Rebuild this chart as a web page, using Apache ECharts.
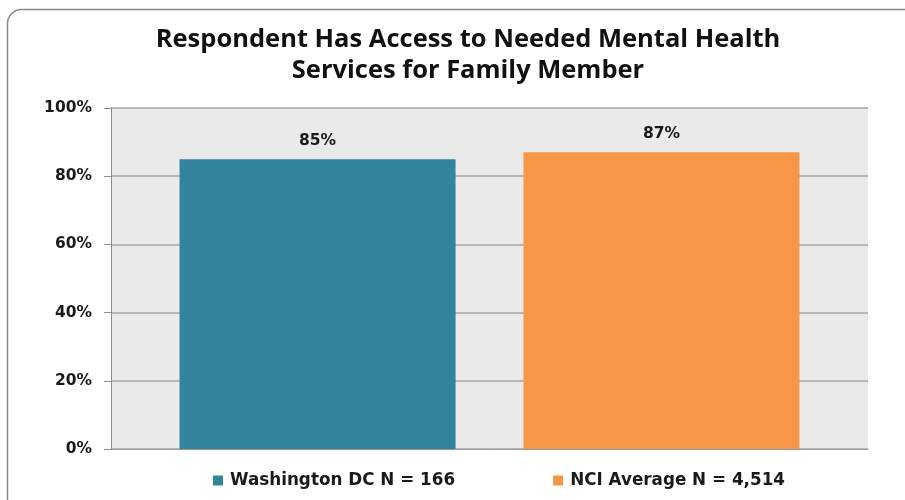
<!DOCTYPE html>
<html>
<head>
<meta charset="utf-8">
<script src="https://cdn.jsdelivr.net/npm/echarts@6/dist/echarts.min.js"></script>
<style>
  html, body { margin: 0; padding: 0; background: #ffffff; }
  #chart { width: 905px; height: 500px; }
</style>
</head>
<body>
<div id="chart"></div>
<script>
// Share of respondents reporting access to needed mental health services
const categories = ['Access'];
const seriesNames = ['Washington DC N = 166', 'NCI Average N = 4,514'];
const washingtonDC = [85];
const nciAverage = [87];
const yTicks = [0, 20, 40, 60, 80, 100];

const chart = echarts.init(document.getElementById('chart'));

const labelStyle = {
  show: true,
  position: 'top',
  distance: 10,
  formatter: '{c}%',
  fontFamily: 'DejaVu Sans',
  fontWeight: 'bold',
  fontSize: 15.5,
  color: '#1a1a1a'
};

chart.setOption({
  animation: false,
  title: {
    text: 'Respondent Has Access to Needed Mental Health\nServices for Family Member',
    left: 463,
    textAlign: 'center',
    top: 19,
    textStyle: {
      fontFamily: 'Open Sans',
      fontWeight: 'bold',
      fontSize: 25.5,
      lineHeight: 31,
      color: '#111111'
    }
  },
  graphic: [{
    type: 'rect',
    shape: { x: 7.5, y: 9.5, width: 910, height: 510, r: 14 },
    style: { fill: 'none', stroke: '#8a8a8a', lineWidth: 1.5 },
    silent: true,
    z: -1
  }],
  grid: {
    left: 111,
    right: 37,
    top: 108,
    bottom: 51,
    show: true,
    backgroundColor: '#eaeaea',
    borderWidth: 0
  },
  legend: {
    data: seriesNames,
    bottom: 6,
    left: 208,
    itemWidth: 10,
    itemHeight: 10,
    itemGap: 98,
    icon: 'rect',
    textStyle: {
      fontFamily: 'DejaVu Sans',
      fontWeight: 'bold',
      fontSize: 16.8,
      padding: [0, 0, 0, 2],
      color: '#1a1a1a'
    }
  },
  xAxis: {
    type: 'category',
    data: categories,
    axisLine: { show: true, lineStyle: { color: '#9a9a9a', width: 1 } },
    axisTick: { show: false },
    axisLabel: { show: false }
  },
  yAxis: {
    type: 'value',
    min: yTicks[0],
    max: yTicks[yTicks.length - 1],
    interval: 20,
    axisLine: { show: true, lineStyle: { color: '#8c8c8c', width: 1 } },
    axisTick: { show: true, length: 7, lineStyle: { color: '#8c8c8c' } },
    axisLabel: {
      formatter: '{value}%',
      margin: 19,
      fontFamily: 'DejaVu Sans',
      fontWeight: 'bold',
      fontSize: 15.5,
      color: '#1a1a1a'
    },
    splitLine: { show: true, lineStyle: { color: '#a6a6a6', width: 1.5 } }
  },
  series: [
    {
      name: seriesNames[0],
      type: 'bar',
      data: washingtonDC,
      barWidth: 276,
      barGap: '24.6%',
      itemStyle: { color: '#31849b' },
      label: labelStyle
    },
    {
      name: seriesNames[1],
      type: 'bar',
      data: nciAverage,
      barWidth: 276,
      barGap: '24.6%',
      itemStyle: { color: '#f79646' },
      label: labelStyle
    }
  ]
});
</script>
</body>
</html>
